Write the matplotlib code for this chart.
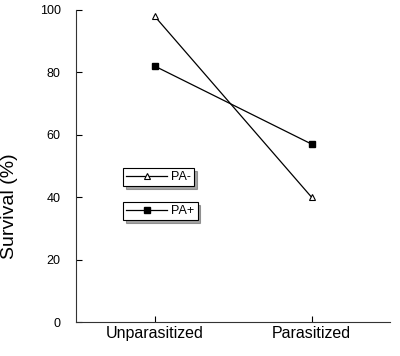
import matplotlib
matplotlib.use("Agg")
import matplotlib.pyplot as plt

plt.rcParams['font.family'] = ['Liberation Sans', 'DejaVu Sans']

groups = ["Unparasitized", "Parasitized"]
pa_minus = [98, 40]
pa_plus = [82, 57]

fig = plt.figure(figsize=(4, 3.56), dpi=100)
ax = fig.add_axes([0.19, 0.0955, 0.785, 0.877])

x = list(range(len(groups)))
l1, = ax.plot(x, pa_minus, color="black", lw=0.9, marker="^", ms=5,
              mfc="white", mec="black", mew=0.8, label="PA-")
l2, = ax.plot(x, pa_plus, color="black", lw=0.9, marker="s", ms=4.5,
              mfc="black", mec="black", label="PA+")

ax.set_xlim(-0.5, 1.5)
ax.set_ylim(0, 100)
ax.set_xticks(x)
ax.set_xticklabels(groups, fontsize=11.5)
ax.set_yticks([0, 20, 40, 60, 80, 100])
ax.tick_params(axis="y", direction="in", labelsize=9, length=4, pad=11)
ax.tick_params(axis="x", direction="in", labelsize=11.5, length=4, pad=3)
ax.spines["top"].set_visible(False)
ax.spines["right"].set_visible(False)
for s in ["left", "bottom"]:
    ax.spines[s].set_linewidth(0.8)
    ax.spines[s].set_color("#333333")

ax.set_ylabel("Survival (%)", fontsize=14)
ax.yaxis.set_label_coords(-0.185, 0.37)

legend_style = dict(frameon=True, fancybox=False, shadow=True, fontsize=9,
                    handlelength=3.3, borderpad=0.25, handletextpad=0.3,
                    borderaxespad=0, loc="upper left")
leg1 = ax.legend(handles=[l1], bbox_to_anchor=(0.15, 0.494), **legend_style)
leg1.get_frame().set_edgecolor("black")
leg1.get_frame().set_linewidth(0.8)
ax.add_artist(leg1)
leg2 = ax.legend(handles=[l2], bbox_to_anchor=(0.15, 0.385), **legend_style)
leg2.get_frame().set_edgecolor("black")
leg2.get_frame().set_linewidth(0.8)

fig.savefig("out.png", dpi=100)
